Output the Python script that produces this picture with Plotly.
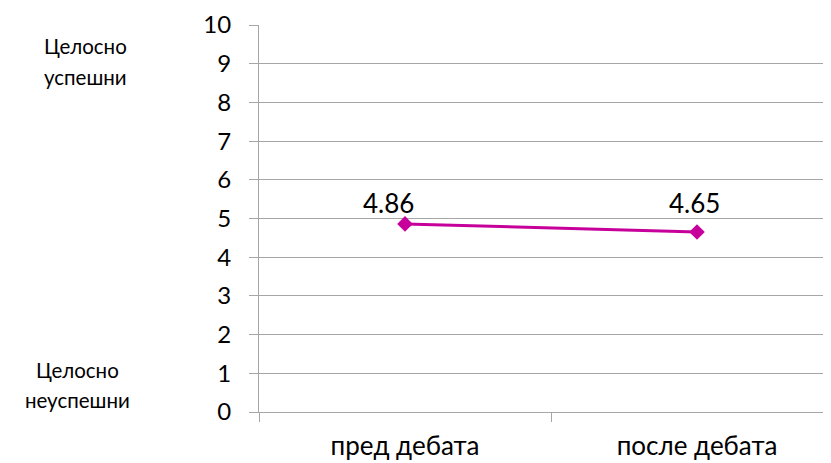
import plotly.graph_objects as go

categories = ["пред дебата", "после дебата"]
values = [4.86, 4.65]
value_labels = ["4.86", "4.65"]
y_ticks = list(range(0, 11))
top_label = ["Целосно", "успешни"]
bottom_label = ["Целосно", "неуспешни"]

FONT = "Lato, Calibri, sans-serif"
GRID = "#A6A6A6"
LINE_COLOR = "#C8009B"

x_pos = list(range(len(categories)))

# page has an 8px body margin; plot area spans x 259..839, y 25.5..411.5 on screen
PLOT_L, PLOT_W = 259, 580
PLOT_T, PLOT_H = 25.5, 386
PX_PER_UNIT = PLOT_H / 10

# hand-placed data label offsets (pixels) as in the reference
label_dx = [-17, -3]
label_top_px = 202.5

fig = go.Figure()
fig.add_trace(go.Scatter(
    x=x_pos, y=values, mode="lines+markers",
    line=dict(color=LINE_COLOR, width=3),
    marker=dict(symbol="diamond", size=12, color=LINE_COLOR),
    cliponaxis=False, showlegend=False,
))

for xv, yv, txt, dx in zip(x_pos, values, value_labels, label_dx):
    point_px = PLOT_T + (10 - yv) * PX_PER_UNIT
    fig.add_annotation(x=xv, y=yv, text=txt, showarrow=False,
                       xanchor="center", yanchor="middle",
                       xshift=dx, yshift=point_px - label_top_px,
                       font=dict(family=FONT, size=26, color="#000000"))

fig.update_layout(
    width=831, height=463,
    margin=dict(l=251, r=0, t=17, b=59),
    paper_bgcolor="white", plot_bgcolor="white",
    font=dict(family=FONT, color="#000000"),
    xaxis=dict(
        range=[-0.5, -0.5 + 580 / 292],
        tickvals=x_pos, ticktext=categories,
        ticks="", showgrid=False, zeroline=False,
        tickfont=dict(size=26, family=FONT),
        ticklabelstandoff=11,
        showline=True, linecolor=GRID, linewidth=1,
        minor=dict(tickvals=[-0.5, 0.5, 1.5], ticks="outside", ticklen=9,
                   tickcolor=GRID, tickwidth=1, showgrid=False),
    ),
    yaxis=dict(
        range=[0, 10], tickvals=y_ticks,
        showgrid=True, gridcolor=GRID, gridwidth=1,
        zeroline=False,
        showline=True, linecolor=GRID, linewidth=1,
        ticks="outside", ticklen=9, tickcolor=GRID,
        tickfont=dict(size=24, family=FONT),
        ticklabelstandoff=13,
    ),
)


def px_to_paper(ax, ay):
    return (ax - PLOT_L) / PLOT_W, 1 - (ay - PLOT_T) / PLOT_H


for i, line in enumerate(top_label):
    px, py = px_to_paper(85, 46 + i * 31)
    fig.add_annotation(text=line, xref="paper", yref="paper", x=px, y=py,
                       xanchor="center", yanchor="middle", showarrow=False,
                       font=dict(size=20.5, family=FONT))
for i, line in enumerate(bottom_label):
    px, py = px_to_paper(77, 370 + i * 30)
    fig.add_annotation(text=line, xref="paper", yref="paper", x=px, y=py,
                       xanchor="center", yanchor="middle", showarrow=False,
                       font=dict(size=20.5, family=FONT))

fig.write_html("out.html")
